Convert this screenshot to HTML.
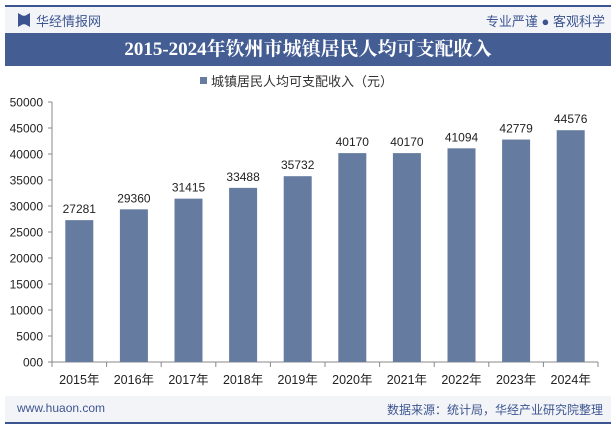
<!DOCTYPE html>
<html><head><meta charset="utf-8"><style>
body{margin:0;width:615px;height:427px;background:#fff;font-family:"Liberation Sans","Noto Sans CJK SC",sans-serif;overflow:hidden;position:relative}
.abs{position:absolute}
</style></head><body>
<div class="abs" style="left:5px;top:5px;width:606px;height:2px;background:#3c5590"></div>
<div class="abs" style="left:5px;top:7px;width:606px;height:26px;background:#f3f4f8"></div>
<div class="abs" style="left:18px;top:13px;width:12px;height:14px;background:#3c5590;clip-path:polygon(0 0,40% 20%,60% 20%,100% 0,100% 100%,60% 80%,40% 80%,0 100%)"></div>
<div class="abs" style="left:36px;top:11px;font-size:13px;color:#3c5590">华经情报网</div>
<div class="abs" style="right:10px;top:11px;font-size:13px;color:#3c5590">专业严谨 ● 客观科学</div>
<div class="abs" style="left:5px;top:33px;width:606px;height:33px;background:#445e94;color:#fff;font:bold 19px 'Liberation Serif','Noto Serif CJK SC',serif;text-align:center;line-height:33px">2015-2024年钦州市城镇居民人均可支配收入</div>
<svg class="abs" style="left:0;top:0" width="615" height="427" id="chart"></svg>
<div class="abs" style="left:5px;top:396px;width:606px;height:26px;background:#f3f4f8"></div>
<div class="abs" style="left:17px;top:401px;font-size:12px;color:#3c5590">www.huaon.com</div>
<div class="abs" style="right:12px;top:401px;font-size:12px;color:#3c5590">数据来源：统计局，华经产业研究院整理</div>
<div class="abs" style="left:5px;top:422px;width:606px;height:2px;background:#3c5590"></div>
<script>
const categories=["2015年","2016年","2017年","2018年","2019年","2020年","2021年","2022年","2023年","2024年"];
const values=[27281,29360,31415,33488,35732,40170,40170,41094,42779,44576];
const yTicks=[0,5000,10000,15000,20000,25000,30000,35000,40000,45000,50000];
const yTickLabels=["000","5000","10000","15000","20000","25000","30000","35000","40000","45000","50000"];
const NS="http://www.w3.org/2000/svg";
const svg=document.getElementById('chart');
const x0=52,x1=598,y0=362,y1=102,yMax=50000;
const bw=(x1-x0)/categories.length;
const ys=v=>y0-(v/yMax)*(y0-y1);
function mk(t,a,txt){const e=document.createElementNS(NS,t);for(const k in a)e.setAttribute(k,a[k]);if(txt!=null)e.textContent=txt;svg.appendChild(e);return e;}
// legend
let lg=mk('rect',{x:200,y:77,width:7,height:7,fill:'#667ba0'});


let lt=mk('text',{x:211,y:86,'font-size':13,fill:'#333'},'城镇居民人均可支配收入（元）');


// y axis
let ya=mk('line',{x1:x0,y1:y1,x2:x0,y2:y0,stroke:'#888'});


yTicks.forEach((v,i)=>{
 const y=ys(v);
 mk('line',{x1:x0-4,y1:y,x2:x0,y2:y,stroke:'#888'});
 const t=mk('text',{x:x0-9,y:y+4.5,'font-size':12,'text-anchor':'end',fill:'#222'},yTickLabels[i]);
 
 
});
let xa=mk('line',{x1:x0,y1:y0,x2:x1,y2:y0,stroke:'#888'});


categories.forEach((c,i)=>{
 const bx=x0+i*bw;
 mk('line',{x1:bx,y1:y0,x2:bx,y2:y0+5,stroke:'#888'});
 if(i==categories.length-1)mk('line',{x1:bx+bw,y1:y0,x2:bx+bw,y2:y0+5,stroke:'#888'});
 const cx=bx+bw/2,y=ys(values[i]);
 const r=mk('rect',{x:cx-14,y:y,width:28,height:y0-y,fill:'#667ba0'});
 
 
 const vl=mk('text',{x:cx,y:y-7,'font-size':12,'text-anchor':'middle',fill:'#222'},String(values[i]));
 
 
 const xl=mk('text',{x:cx,y:y0+22,'font-size':12.5,'text-anchor':'middle',fill:'#222'},c);
 
 
});
</script>
</body></html>
